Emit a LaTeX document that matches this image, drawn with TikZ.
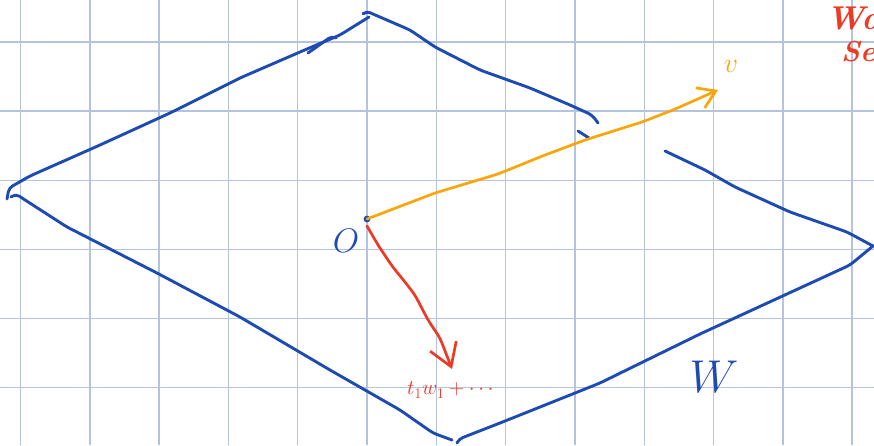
\RequirePackage{fix-cm}
\documentclass[tikz,border=0pt]{standalone}
\definecolor{penblue}{RGB}{30,75,178}
\definecolor{penorange}{RGB}{250,165,10}
\definecolor{penred}{RGB}{235,58,38}
\definecolor{gridblue}{RGB}{180,196,224}
\usepackage{amsmath}
\usepackage{tikz}
\usetikzlibrary{arrows.meta}

\begin{document}
\begin{tikzpicture}[
    x=1pt, y=-1pt,
    gridline/.style={gridblue, line width=1.4pt},
    plane/.style={penblue, line width=2.9pt, line cap=round, line join=round, rounded corners=4pt},
    vec/.style={line width=2.7pt, line cap=round, line join=round, rounded corners=5pt},
    vecv/.style={vec, penorange, -{Straight Barb[length=17pt, width=22pt]}},
    vect/.style={vec, penred, -{Straight Barb[length=22pt, width=28pt]}},
    lbl/.style={inner sep=0pt}
  ]
    \useasboundingbox (0,0) rectangle (874,445);
    \clip (0,0) rectangle (874,445);
    \fill[white] (0,0) rectangle (874,445);

    \foreach \gx in {0,...,12}
      \draw[gridline] (20.5+69.3*\gx,0) -- (20.5+69.3*\gx,445);
    \foreach \gy in {0,...,5}
      \draw[gridline] (0,42+69.1*\gy) -- (874,42+69.1*\gy);

    \coordinate (L) at (9,188);
    \coordinate (T) at (366,11);
    \coordinate (R) at (873,246);
    \coordinate (B) at (452,440);
    \coordinate (o) at (367,219);
    \coordinate (vtip) at (718,90);
    \coordinate (ttip) at (452,369);

    \draw[plane] (7,199) -- (L) -- (30,176) -- (100,145) -- (170,113) -- (240,78) -- (300,52) -- (340,35) -- (369,17);
    \draw[plane] (308,53) -- (332,36) -- (336,38);
    \draw[plane] (364,13) -- (T) -- (410,30) -- (435,47) -- (480,70) -- (530,88) -- (570,105) -- (592,115) -- (598,123);
    \draw[plane] (578,131) -- (589,138);
    \draw[plane] (665,151) -- (705,170) -- (735,187) -- (790,212) -- (847,232) -- (R);
    \draw[plane] (R) -- (850,265) -- (700,334) -- (600,383) -- (500,423) -- (459,439) -- (457,443);
    \draw[plane] (11,197) -- (16,194) -- (22,198) -- (67,227) -- (157,273) -- (240,317) -- (330,370) -- (400,410) -- (433,433) -- (B);

    \fill[penblue] (o) circle (3.4pt);
    \draw[vecv] (o) -- (435,193) -- (498,174) -- (545,155) -- (585,140) -- (642,122) -- (673,110) -- (vtip);
    \draw[vect] (367,226) -- (378,245) -- (392,266) -- (405,282) -- (415,295) -- (428,320) -- (440,338) -- (ttip);

    \node[lbl, penblue, font=\fontsize{34}{40}\selectfont] (lblO) at (346,241) {$O$};
    \node[lbl, penorange, font=\fontsize{28}{32}\selectfont] (lblv) at (731,66) {$v$};
    \node[lbl, penblue, font=\fontsize{46}{52}\selectfont] (lblW) at (714,377) {$W$};
    \node[lbl, penred, font=\fontsize{21}{24}\selectfont] (lblt) at (452,390) {$t_1w_1+\cdots$};
    \node[lbl, penred, anchor=west, font=\fontsize{33}{38}\selectfont\bfseries\itshape] (note1) at (826,18) {Wa};
    \node[lbl, penred, anchor=west, font=\fontsize{29}{34}\selectfont\bfseries\itshape] (note2) at (841,52) {Se};
  \end{tikzpicture}
\end{document}
